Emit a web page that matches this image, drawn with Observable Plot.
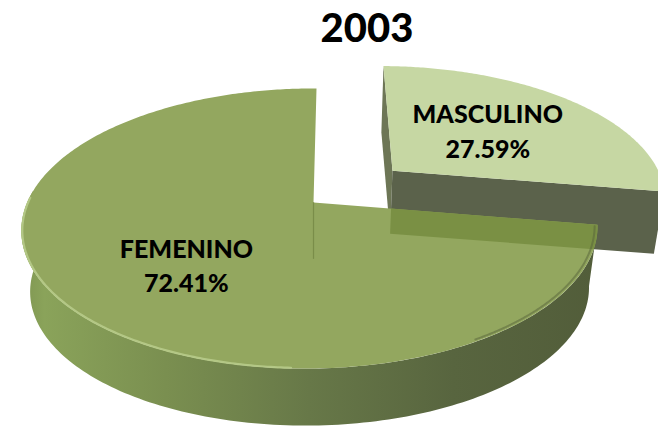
<!DOCTYPE html>
<html>
<head>
<meta charset="utf-8">
<script src="https://cdn.jsdelivr.net/npm/d3@7"></script>
<script src="https://cdn.jsdelivr.net/npm/@observablehq/plot@0.6"></script>
<style>
  html, body { margin: 0; padding: 0; background: #fff; overflow: hidden; }
  body { width: 658px; height: 426px; font-family: Lato, "Open Sans", sans-serif; }
  #title { position: relative; height: 50px; }
  #title span { position: absolute; left: 367px; top: 2px; transform: translateX(-50%);
    font-size: 40px; line-height: 50px; font-weight: 900; color: #000; white-space: nowrap; }
</style>
</head>
<body>
<div id="title"><span></span></div>
<div id="chart"></div>
<script>
// ---- data ----
const title = "2003";
const categories = ["MASCULINO", "FEMENINO"];
const values = [27.59, 72.41];
const valueLabels = ["27.59%", "72.41%"];
const explode = [0.38, 0];

// ---- colours ----
const topColors = ["#c6d7a3", "#93a75f"];
const wallColor = "#5b624b";
const overlapColor = "#7a9044";

// ---- 3D look (perspective-ish projection of a unit disc) ----
const CX = 313, CY = 202, A = 283, B = 135.2, D = -3.56, K = 0.1857, M = 0.0115, T = 62, S = 0.03;
function pt(u, v, z) {
  const w = 1 - K * v + M * u, s = 1 - S * z;
  return [CX + s * (A * u + D * v) / w, CY + T * z + s * B * v / w];
}
const pie = d3.pie().sort(null).value(d => d)(values);
function polar(i, a, r, z) {
  const mid = (pie[i].startAngle + pie[i].endAngle) / 2, e = explode[i];
  const ox = e * Math.sin(mid), oy = -e * Math.cos(mid);
  return pt(ox + r * Math.sin(a), oy - r * Math.cos(a), z);
}
function arc(i, a0, a1, r, z, n = 160) {
  return d3.range(n + 1).map(j => polar(i, a0 + (a1 - a0) * j / n, r, z));
}
function clipPoly(subject, clip) {
  const c = clip.reduce((s, p) => [s[0] + p[0] / clip.length, s[1] + p[1] / clip.length], [0, 0]);
  const side = (a, b, p) => (b[0] - a[0]) * (p[1] - a[1]) - (b[1] - a[1]) * (p[0] - a[0]);
  let out = subject;
  for (let i = 0; i < clip.length && out.length; i++) {
    const a = clip[i], b = clip[(i + 1) % clip.length];
    const sg = Math.sign(side(a, b, c));
    if (!sg) continue;
    const inp = out; out = [];
    for (let j = 0; j < inp.length; j++) {
      const P = inp[j], Q = inp[(j + 1) % inp.length];
      const sp = side(a, b, P) * sg, sq = side(a, b, Q) * sg;
      if (sp >= 0) out.push(P);
      if ((sp >= 0) !== (sq >= 0)) {
        const t = sp / (sp - sq);
        out.push([P[0] + t * (Q[0] - P[0]), P[1] + t * (Q[1] - P[1])]);
      }
    }
  }
  return out;
}

const m0 = pie[0], m1 = pie[1];
const rad = deg => deg * Math.PI / 180;

// MASCULINO (exploded) pieces
const mascWallStart = [polar(0, m0.startAngle, 0, 0), polar(0, m0.startAngle, 1, 0), polar(0, m0.startAngle, 1, 1), polar(0, m0.startAngle, 0, 1)];
const mascWallEnd = [polar(0, m0.endAngle, 0, 0), polar(0, m0.endAngle, 1, 0), polar(0, m0.endAngle, 1, 1), polar(0, m0.endAngle, 0, 1)];
const mascTop = [polar(0, 0, 0, 0), ...arc(0, m0.startAngle, m0.endAngle, 1, 0)];

// FEMENINO pieces
const sideEnd = rad(275);
const mainSide = [...arc(1, m1.startAngle, sideEnd, 1, 0), ...arc(1, sideEnd, m1.startAngle, 1, 1)];
const mainTop = [polar(1, 0, 0, 0), ...arc(1, m1.startAngle, m1.endAngle, 1, 0, 360)];
const frontSector = [polar(1, 0, 0, 0), ...arc(1, m1.startAngle, Math.PI, 1, 0)];
const overlap = clipPoly(mascWallEnd, frontSector);
const highlight = arc(1, rad(183), rad(272), 0.997, 0);
const rimShade = arc(1, rad(100), rad(150), 0.99, 0);
const centerEdge = [polar(1, 0, 0, 0), polar(1, 0, 0, 0.9)];

// labels
const labelPos = [polar(0, (m0.startAngle + m0.endAngle) / 2, 0.5, 0), polar(1, (m1.startAngle + m1.endAngle) / 2, 0.55, 0)];
const labelData = categories.map((c, i) => ({ text: c + "\n" + valueLabels[i], x: labelPos[i][0], y: labelPos[i][1] }));

const poly = (pts, opts) => Plot.line(pts, { x: d => d[0], y: d => d[1], curve: "linear-closed", stroke: "none", ...opts });
const textOpts = { x: "x", y: "y", text: "text", fontSize: 25, fontWeight: 900, fontFamily: "Lato, sans-serif", lineHeight: 1.4, fill: "#000", textAnchor: "middle" };

document.querySelector("#title span").textContent = title;

const svg = Plot.plot({
  width: 658,
  height: 376,
  margin: 0,
  x: { domain: [0, 658], range: [0, 658], axis: null },
  y: { domain: [50, 426], range: [0, 376], axis: null },
  style: { background: "#fff", overflow: "hidden" },
  marks: [
    poly(mascWallStart, { fill: "#6d7656" }),
    poly(mascWallEnd, { fill: wallColor }),
    poly(mascTop, { fill: topColors[0] }),
    poly(mainSide, { fill: "url(#sideGrad)" }),
    poly(mainTop, { fill: topColors[1] }),
    poly(overlap, { fill: overlapColor }),
    Plot.line(rimShade, { x: d => d[0], y: d => d[1], stroke: "#55613a", strokeWidth: 2, strokeOpacity: 0.5 }),
    Plot.line(highlight, { x: d => d[0], y: d => d[1], stroke: "#b7cb8a", strokeWidth: 2.2, strokeOpacity: 0.9 }),
    Plot.line(centerEdge, { x: d => d[0], y: d => d[1], stroke: "#6f8240", strokeWidth: 1.2, strokeOpacity: 0.7 }),
    Plot.text(labelData.slice(0, 1), { ...textOpts, dx: 2, dy: -4 }),
    Plot.text(labelData.slice(1), { ...textOpts, dx: 2, dy: 9.5 })
  ]
});
svg.insertAdjacentHTML("afterbegin",
  `<defs><linearGradient id="sideGrad" x1="0" x2="1" y1="0" y2="0">
     <stop offset="0" stop-color="#7f9652"/>
     <stop offset="0.04" stop-color="#8aa35a"/>
     <stop offset="0.25" stop-color="#7a8f50"/>
     <stop offset="0.5" stop-color="#677848"/>
     <stop offset="0.75" stop-color="#58653f"/>
     <stop offset="1" stop-color="#525d3a"/>
   </linearGradient></defs>`);
document.getElementById("chart").append(svg);
</script>
</body>
</html>
